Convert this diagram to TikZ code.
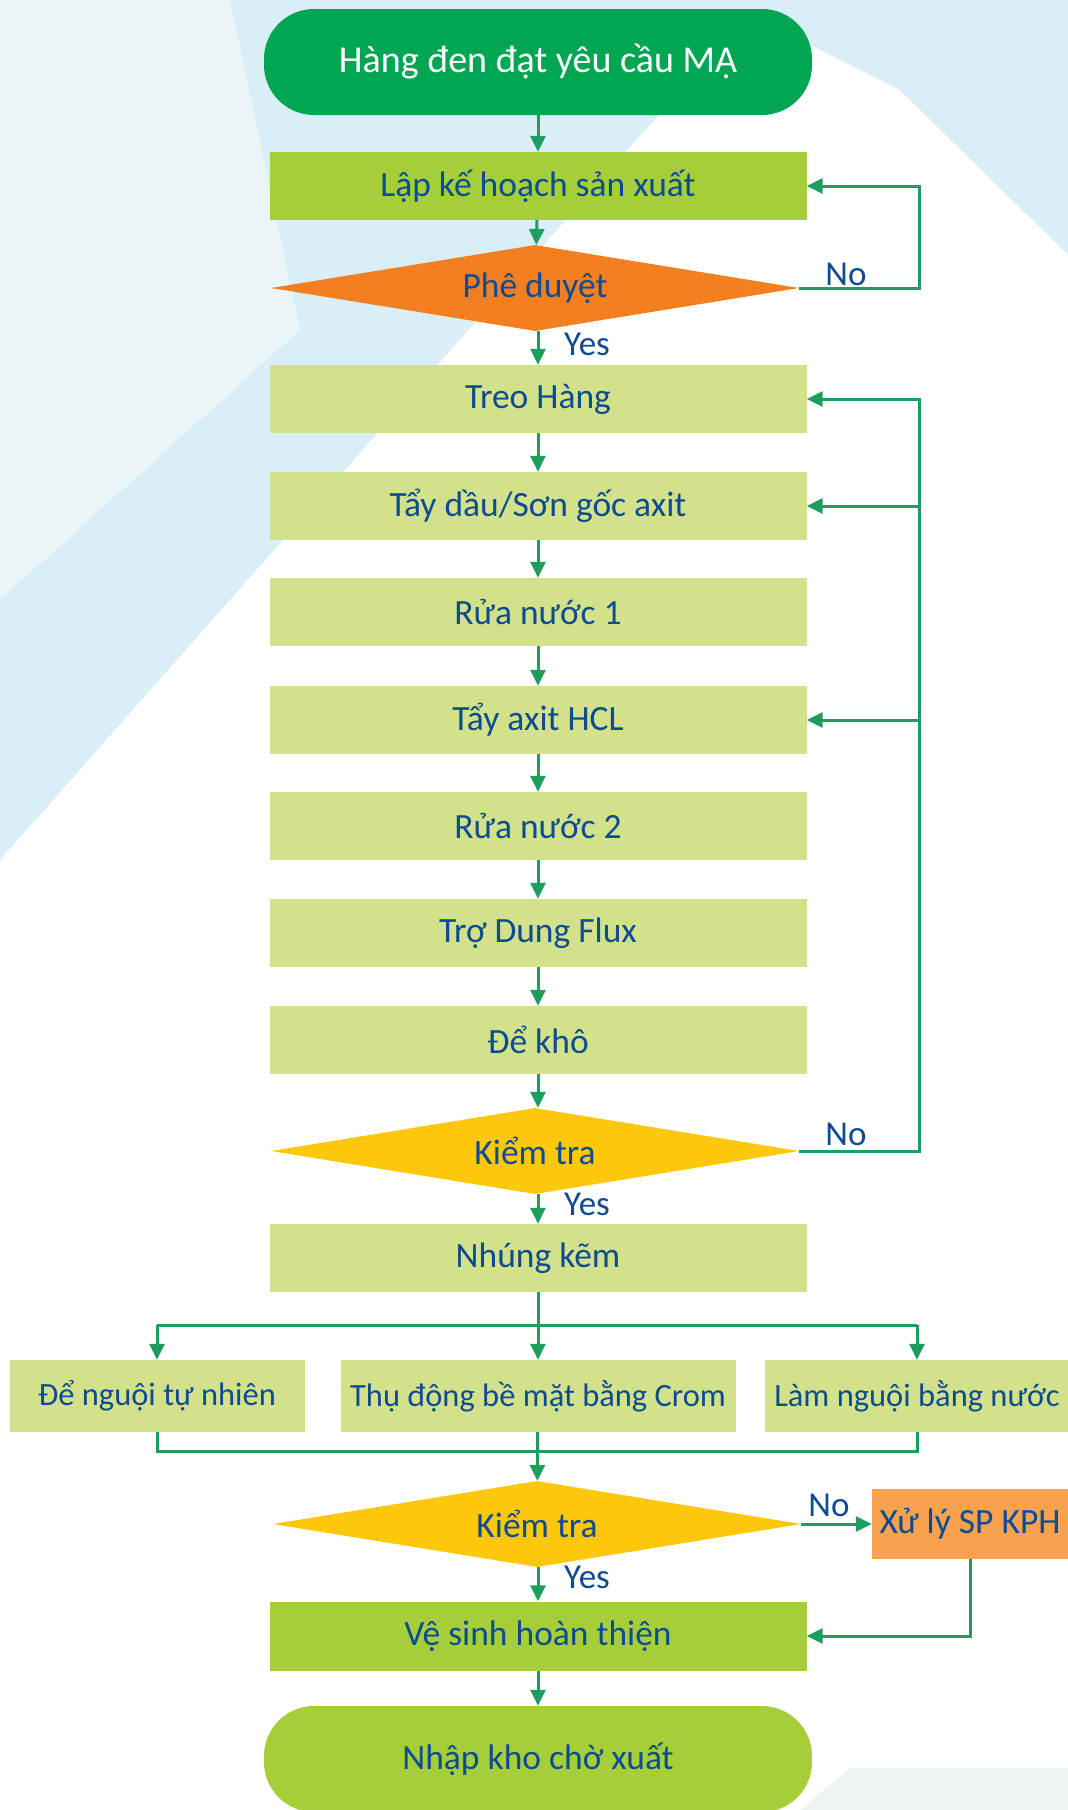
\documentclass[tikz,border=0pt]{standalone}
\usepackage{fontspec}
\setmainfont{Carlito}
\usetikzlibrary{
    shapes.geometric,
    arrows.meta,
    calc
}
\definecolor{deepgreen}{HTML}{00A651}
\definecolor{leafgreen}{HTML}{A6CE39}
\definecolor{palegreen}{HTML}{D3E28A}
\definecolor{darkorange}{HTML}{F47F20}
\definecolor{lightorange}{HTML}{F9A24D}
\definecolor{goldyellow}{HTML}{FDC70B}
\definecolor{inkblue}{HTML}{0D4C91}
\definecolor{flowgreen}{HTML}{1E9E5E}
\definecolor{skyblue}{HTML}{D9EEF6}
\definecolor{mistblue}{HTML}{EAF5F8}
\definecolor{mintgrey}{HTML}{EEF5EF}
\tikzset {
    base/.style = {inner sep = 0pt, text = inkblue, font = \fontsize{35.5}{40}\selectfont},
    terminal/.style = {base, rectangle, rounded corners = 50pt, minimum width = 548pt, minimum height = 106pt},
    process/.style = {base, rectangle, fill = palegreen, minimum width = 537pt, minimum height = 68pt},
    side process/.style = {base, rectangle, fill = palegreen, minimum height = 72pt, font = \fontsize{32.5}{38}\selectfont},
    decision/.style = {base, diamond, aspect = 6, minimum width = 528pt, minimum height = 86pt},
    answer/.style = {inner sep = 0pt, text = inkblue, font = \fontsize{35}{40}\selectfont},
    %
    line/.style = {draw = flowgreen, line width = 3pt},
    flow/.style = {line, -{Triangle[length = 16pt, width = 15pt]}}
}

\begin{document}
\begin{tikzpicture}[x = 1pt, y = -1pt]
    \useasboundingbox (0, 0) rectangle (1068, 1810);
    % background
    \fill [white] (0, 0) rectangle (1068, 1810);
    \fill [skyblue] (0, 0) -- (760, 0) -- (0, 860) -- cycle;
    \fill [mistblue] (0, 0) -- (230, 0) -- (300, 330) -- (0, 600) -- cycle;
    \fill [skyblue] (720, 0) -- (1068, 0) -- (1068, 255) -- (900, 90) -- cycle;
    \fill [mintgrey] (800, 1810) -- (850, 1768) -- (1068, 1768) -- (1068, 1810) -- cycle;

    % main column
    \node (start) [terminal, fill = deepgreen, text = white, font = \fontsize{38}{44}\selectfont] at (538, 62) {Hàng đen đạt yêu cầu MẠ};
    \node (plan) [process, fill = leafgreen] at (538, 186) {Lập kế hoạch sản xuất};
    \node (approve) [decision, fill = darkorange] at (535, 288) {Phê duyệt};
    \node (hang) [process] at (538, 399) {Treo Hàng};
    \node (degrease) [process] at (538, 506) {Tẩy dầu/Sơn gốc axit};
    \node (rinsei) [process] at (538, 612) {Rửa nước 1};
    \node (pickle) [process] at (538, 720) {Tẩy axit HCL};
    \node (rinseii) [process] at (538, 826) {Rửa nước 2};
    \node (flux) [process] at (538, 933) {Trợ Dung Flux};
    \node (dry) [process] at (538, 1040) {Để khô};
    \node (checki) [decision, fill = goldyellow] at (535, 1151) {Kiểm tra};
    \node (dip) [process] at (538, 1258) {Nhúng kẽm};

    % cooling row
    \node (natural) [side process, minimum width = 295pt] at (157, 1396) {Để nguội tự nhiên};
    \node (chrome) [side process, minimum width = 395pt] at (538, 1396) {Thụ động bề mặt bằng Crom};
    \node (water) [side process, minimum width = 304pt] at (917, 1396) {Làm nguội bằng nước};

    \node (checkii) [decision, fill = goldyellow] at (537, 1524) {Kiểm tra};
    \node (fix) [base, rectangle, fill = lightorange, minimum width = 196pt, minimum height = 70pt] at (970, 1524) {Xử lý SP KPH};
    \node (finish) [process, fill = leafgreen, minimum height = 69pt] at (538, 1636) {Vệ sinh hoàn thiện};
    \node (store) [terminal, fill = leafgreen] at (538, 1759) {Nhập kho chờ xuất};

    % answers
    \node (yesi) [answer, anchor = west] at (564, 344) {Yes};
    \node (noi) [answer] at (846, 274) {No};
    \node (yesii) [answer, anchor = west] at (564, 1204) {Yes};
    \node (noii) [answer] at (846, 1134) {No};
    \node (noiii) [answer] at (829, 1505) {No};
    \node (yesiii) [answer, anchor = west] at (564, 1577) {Yes};

    \coordinate (rx) at (919, 0);
    \coordinate (split) at (538, 1325);
    \coordinate (merge) at (538, 1451);

    % connectors
    \draw [flow] (start) -- (plan);
    \draw [flow] (plan) -- (approve);
    \draw [flow] (approve.south -| hang) -- (hang);
    \draw [flow] (hang) -- (degrease);
    \draw [flow] (degrease) -- (rinsei);
    \draw [flow] (rinsei) -- (pickle);
    \draw [flow] (pickle) -- (rinseii);
    \draw [flow] (rinseii) -- (flux);
    \draw [flow] (flux) -- (dry);
    \draw [flow] (dry) -- (checki.north -| dry);
    \draw [flow] (checki.south -| dip) -- (dip);
    \draw [flow] (approve.east) -- (approve.east -| rx) |- (plan.east);
    \draw [flow] (checki.east) -- (checki.east -| rx) |- (hang.east);
    \draw [flow] (degrease.east -| rx) -- (degrease.east);
    \draw [flow] (pickle.east -| rx) -- (pickle.east);

    \draw [line] (dip) -- (split);
    \draw [line] (split -| natural) -- (split -| water);
    \foreach \n in {natural, chrome, water}
        \draw [flow] (split -| \n) -- (\n);
    \draw [line] (natural) |- (merge) -| (water);
    \draw [flow] (chrome) -- (checkii);

    \draw [flow] (checkii.east) -- (fix.west);
    \draw [flow] (checkii.south -| finish) -- (finish);
    \draw [flow] (fix) |- (finish.east);
    \draw [flow] (finish) -- (store);
\end{tikzpicture}
\end{document}
